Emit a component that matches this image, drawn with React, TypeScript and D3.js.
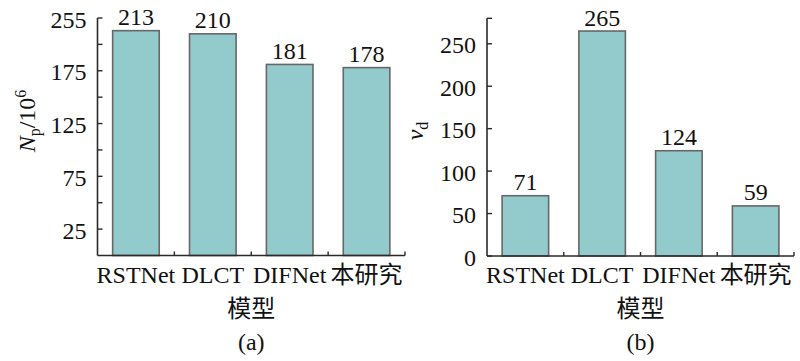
import React from "react";
import * as d3 from "d3";

const categories = ["RSTNet", "DLCT", "DIFNet", "本研究"];
const paramValues = [213, 210, 181, 178];
const speedValues = [71, 265, 124, 59];
const leftTickValues = [225, 200, 175, 150, 125, 100, 75, 50, 25];
const leftTickLabels = ["255", "", "175", "", "125", "", "75", "", "25"];
const rightTickValues = [280, 250, 200, 150, 100, 50, 0];
const rightTickLabels = ["", "250", "200", "150", "100", "50", "0"];

const FONT = "Liberation Serif, Times New Roman, Times, DejaVu Serif, Noto Sans CJK SC, serif";
const FILL = "#93cbcc";
const BAR_STROKE = "#676767";
const AXIS = "#2a2a2a";

type PanelProps = {
  x0: number;
  x1: number;
  yTop: number;
  yBottom: number;
  domainMax: number;
  values: number[];
  ticks: number[];
  tickLabels: string[];
  yLabel: React.ReactNode;
  panelLabel: string;
};

function Panel(p: PanelProps) {
  const x = d3.scaleBand<string>().domain(categories).range([p.x0, p.x1]).padding(0);
  const y = d3.scaleLinear().domain([0, p.domainMax]).range([p.yBottom, p.yTop]);
  const step = x.step();
  const bw = step * 0.606;
  const off = (step - bw) / 2;
  const mid = (p.x0 + p.x1) / 2;
  const ts = { fontFamily: FONT };
  return (
    <g style={ts} fill="#111">
      {categories.map((c, i) => (
        <g key={c}>
          <rect
            x={(x(c) as number) + off}
            y={y(p.values[i])}
            width={bw}
            height={y(0) - y(p.values[i])}
            fill={FILL}
            stroke={BAR_STROKE}
            strokeWidth={1.6}
          />
          <text
            x={(x(c) as number) + step / 2}
            y={y(p.values[i]) - 5.5}
            textAnchor="middle"
            fontSize={24}
            style={ts}
          >
            {p.values[i]}
          </text>
          <text x={(x(c) as number) + step / 2} y={283} textAnchor="middle" fontSize={24} style={ts}>
            {c}
          </text>
        </g>
      ))}
      <line x1={p.x0} x2={p.x0} y1={p.yTop} y2={p.yBottom} stroke={AXIS} strokeWidth={1.6} />
      {p.ticks.map((t, i) => (
        <g key={t}>
          <line x1={p.x0} x2={p.x0 + 5} y1={y(t)} y2={y(t)} stroke={AXIS} strokeWidth={1.4} />
          {p.tickLabels[i] && (
            <text x={p.x0 - 11} y={y(t) + 9.5} textAnchor="end" fontSize={24} style={ts}>
              {p.tickLabels[i]}
            </text>
          )}
        </g>
      ))}
      <line x1={p.x0} x2={p.x1} y1={p.yBottom} y2={p.yBottom} stroke={AXIS} strokeWidth={1.6} />
      {categories.map((c) => {
        const bx = (x(c) as number) + step;
        return <line key={"t" + c} x1={bx} x2={bx} y1={p.yBottom} y2={p.yBottom - 4} stroke={AXIS} strokeWidth={1.4} />;
      })}
      <text x={mid} y={317} textAnchor="middle" fontSize={24} style={ts}>
        模型
      </text>
      <text x={mid} y={350} textAnchor="middle" fontSize={24} style={ts}>
        {p.panelLabel}
      </text>
      {p.yLabel}
    </g>
  );
}

export default function App() {
  const ts = { fontFamily: FONT };
  return (
    <svg width={800} height={361} style={{ position: "absolute", left: 0, top: 0, background: "#fff" }}>
      <rect width={800} height={361} fill="#fff" />
      <Panel
        x0={97.5}
        x1={405}
        yTop={18}
        yBottom={255.5}
        domainMax={225}
        values={paramValues}
        ticks={leftTickValues}
        tickLabels={leftTickLabels}
        panelLabel="(a)"
        yLabel={
          <text transform="translate(35,121) rotate(-90)" textAnchor="middle" fontSize={24} style={ts}>
            <tspan fontStyle="italic">N</tspan>
            <tspan fontSize={16} dy={5}>p</tspan>
            <tspan dy={-5}>/10</tspan>
            <tspan fontSize={16} dy={-9}>6</tspan>
          </text>
        }
      />
      <Panel
        x0={487}
        x1={794}
        yTop={18.3}
        yBottom={256}
        domainMax={280}
        values={speedValues}
        ticks={rightTickValues}
        tickLabels={rightTickLabels}
        panelLabel="(b)"
        yLabel={
          <text transform="translate(423,131) rotate(-90)" textAnchor="middle" fontSize={24} style={ts}>
            <tspan fontStyle="italic">v</tspan>
            <tspan fontSize={16} dy={5}>d</tspan>
          </text>
        }
      />
    </svg>
  );
}
